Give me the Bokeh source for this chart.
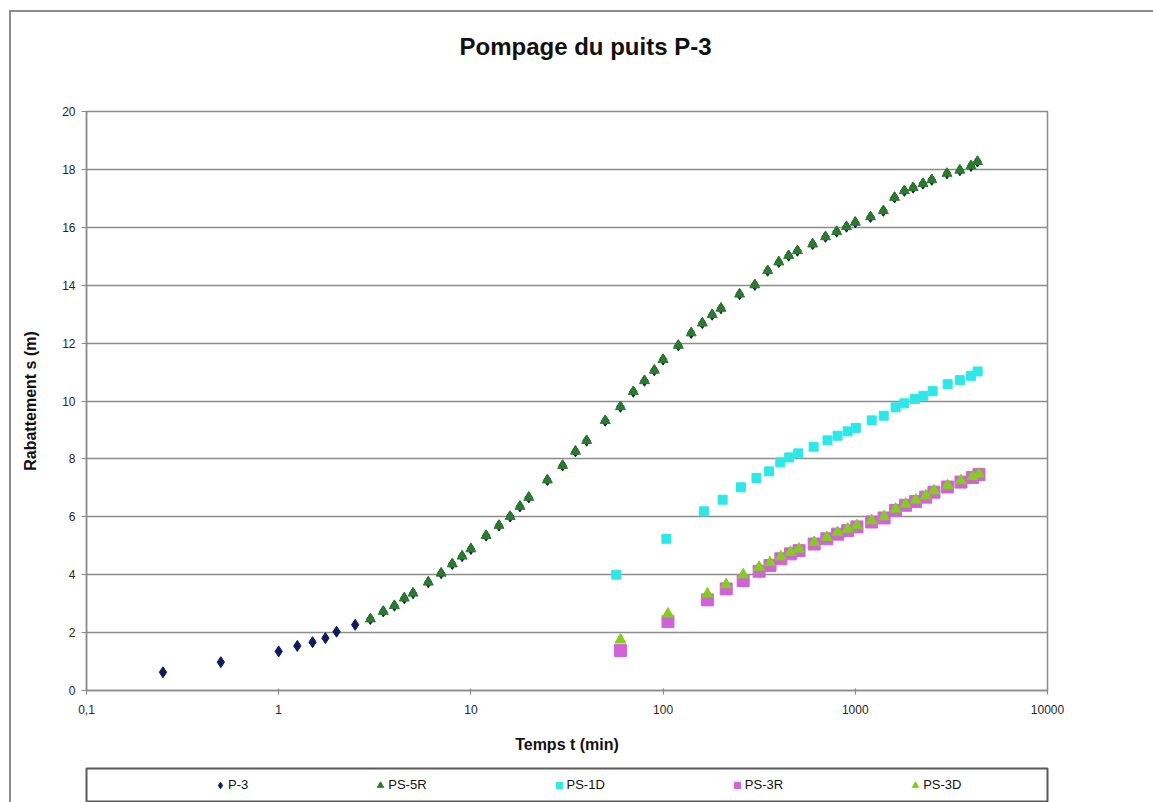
from bokeh.embed import file_html
from bokeh.layouts import column
from bokeh.models import FixedTicker, Legend, LegendItem, Title
from bokeh.plotting import figure
from bokeh.resources import INLINE

# ---- Mesures de rabattement : temps (min) / rabattement (m) ----
t_p3 = [0.25, 0.5, 1, 1.25, 1.5, 1.75, 2, 2.5, 3, 3.5, 4, 4.5, 5, 6, 7, 8, 9, 10,
        12, 14, 16, 18, 20, 25, 30, 35, 40, 50, 60, 70, 80, 90, 100, 120, 140,
        160, 180, 200, 250, 300, 350, 400, 450, 500, 600, 700, 800, 900, 1000,
        1200, 1400, 1600, 1800, 2000, 2250, 2500, 3000, 3500, 4000, 4320]
s_p3 = [0.63, 0.98, 1.35, 1.54, 1.67, 1.81, 2.03, 2.27, 2.47, 2.73, 2.93, 3.19,
        3.36, 3.74, 4.05, 4.37, 4.64, 4.89, 5.35, 5.70, 6.01, 6.36, 6.67, 7.27,
        7.77, 8.26, 8.63, 9.32, 9.80, 10.32, 10.70, 11.06, 11.43, 11.92, 12.35,
        12.69, 12.98, 13.20, 13.69, 14.01, 14.50, 14.80, 15.02, 15.19, 15.42,
        15.67, 15.85, 16.02, 16.17, 16.36, 16.57, 17.03, 17.26, 17.37, 17.51,
        17.64, 17.86, 17.97, 18.12, 18.27]

t_ps5r = [3, 3.5, 4, 4.5, 5, 6, 7, 8, 9, 10, 12, 14, 16, 18, 20, 25, 30, 35, 40,
          50, 60, 70, 80, 90, 100, 120, 140, 160, 180, 200, 250, 300, 350, 400,
          450, 500, 600, 700, 800, 900, 1000, 1200, 1400, 1600, 1800, 2000, 2250,
          2500, 3000, 3500, 4000, 4320]
s_ps5r = [2.47, 2.73, 2.93, 3.19, 3.36, 3.74, 4.05, 4.37, 4.64, 4.89, 5.35, 5.70,
          6.01, 6.36, 6.67, 7.27, 7.77, 8.26, 8.63, 9.32, 9.80, 10.32, 10.70,
          11.06, 11.43, 11.92, 12.35, 12.69, 12.98, 13.20, 13.69, 14.01, 14.50,
          14.80, 15.02, 15.19, 15.42, 15.67, 15.85, 16.02, 16.17, 16.36, 16.57,
          17.03, 17.26, 17.37, 17.51, 17.64, 17.86, 17.97, 18.12, 18.27]

t_ps1d = [57, 104, 163, 204, 254, 306, 356, 407, 453, 505, 607, 717, 809, 912,
          1007, 1217, 1406, 1621, 1800, 2045, 2260, 2526, 3024, 3500, 4000, 4330]
s_ps1d = [4.00, 5.24, 6.19, 6.59, 7.02, 7.34, 7.57, 7.88, 8.05, 8.19, 8.42, 8.64,
          8.80, 8.95, 9.07, 9.33, 9.49, 9.78, 9.92, 10.07, 10.18, 10.34, 10.58,
          10.72, 10.87, 11.02]

t_ps3 = [60, 106, 170, 213, 261, 316, 360, 410, 460, 510, 611, 711, 809, 912,
         1020, 1217, 1412, 1621, 1827, 2063, 2325, 2566, 3024, 3547, 4076, 4400]
s_ps3r = [1.38, 2.38, 3.13, 3.51, 3.80, 4.12, 4.32, 4.55, 4.72, 4.83, 5.06, 5.24,
          5.40, 5.52, 5.65, 5.82, 5.96, 6.22, 6.40, 6.53, 6.68, 6.85, 7.03, 7.20,
          7.36, 7.46]
s_ps3d = [1.75, 2.65, 3.34, 3.66, 4.00, 4.26, 4.42, 4.62, 4.78, 4.89, 5.12, 5.29,
          5.46, 5.58, 5.70, 5.87, 6.01, 6.27, 6.44, 6.58, 6.73, 6.90, 7.08, 7.25,
          7.39, 7.48]

x_ticks = [0.1, 1, 10, 100, 1000, 10000]
x_tick_labels = ["0,1", "1", "10", "100", "1000", "10000"]
y_ticks = [0, 2, 4, 6, 8, 10, 12, 14, 16, 18, 20]

FONT = "Liberation Sans"
GRID = "#8c8c8c"

# series styles: (label, marker, size, colour)
styles = [("P-3", "diamond", 11, "#0d1c5c"),
          ("PS-5R", "triangle", 10, "#2c7a2c"),
          ("PS-1D", "square", 9, "#2ee8e8"),
          ("PS-3R", "square", 12, "#d063d6"),
          ("PS-3D", "triangle", 11, "#84cc1f")]
series = [(t_p3, s_p3), (t_ps5r, s_ps5r), (t_ps1d, s_ps1d),
          (t_ps3, s_ps3r), (t_ps3, s_ps3d)]

BORDER_L, BORDER_R = 86, 106

# ---------------- main chart ----------------
p = figure(width=1153, height=767, x_axis_type="log",
           x_range=(0.1, 10000), y_range=(0, 20), title=None,
           output_backend="svg", toolbar_location=None,
           min_border_left=BORDER_L, min_border_right=BORDER_R,
           min_border_top=111, min_border_bottom=77)
p.background_fill_color = "white"
p.border_fill_color = None
p.outline_line_color = GRID
p.outline_line_width = 1.5

# title block: a thin spacer title keeps the heading clear of the frame
p.add_layout(Title(text=" ", text_font_size="1px", standoff=44), "above")
p.add_layout(Title(text="Pompage du puits P-3", align="left", offset=373,
                   text_font=FONT, text_font_size="24px",
                   text_font_style="bold", text_color="#111111", standoff=10),
             "above")

# axes
p.xaxis.ticker = FixedTicker(ticks=x_ticks, minor_ticks=[])
p.xaxis.major_label_overrides = dict(zip(x_ticks, x_tick_labels))
p.yaxis.ticker = FixedTicker(ticks=y_ticks, minor_ticks=[])
for ax in (p.xaxis[0], p.yaxis[0]):
    ax.axis_line_color = GRID
    ax.axis_line_width = 1.5
    ax.major_tick_line_color = GRID
    ax.major_tick_line_width = 1.2
    ax.minor_tick_line_color = None
    ax.major_label_text_font = FONT
    ax.major_label_text_font_size = "12px"
    ax.major_label_text_color = "#262626"
    ax.axis_label_text_font = FONT
    ax.axis_label_text_font_size = "16px"
    ax.axis_label_text_font_style = "bold"
    ax.axis_label_text_color = "#111111"
p.xaxis.axis_label = "Temps t (min)"
p.yaxis.axis_label = "Rabattement s (m)"
p.xaxis.major_tick_out = 4
p.xaxis.major_tick_in = 2
p.xaxis.major_label_standoff = 10
p.xaxis.axis_label_standoff = 19
p.yaxis.major_tick_out = 5
p.yaxis.major_tick_in = 0
p.yaxis.major_label_standoff = 6
p.yaxis.axis_label_standoff = 20

p.xgrid.visible = False
p.ygrid.grid_line_color = GRID
p.ygrid.grid_line_width = 1.3

for (label, marker, size, color), (t, s) in zip(styles, series):
    p.scatter(t, s, marker=marker, size=size,
              fill_color=color, line_color=color)

# ---------------- legend strip ----------------
# the strip's ranges lie below every drawdown value, so its renderers only
# provide the legend swatches
leg = figure(width=1153, height=35, x_range=(0.1, 10000), y_range=(-2, -1),
             x_axis_type="log", output_backend="svg", toolbar_location=None,
             x_axis_location=None, y_axis_location=None,
             min_border_left=BORDER_L, min_border_right=BORDER_R,
             min_border_top=1, min_border_bottom=1)
leg.grid.visible = False
leg.background_fill_color = "white"
leg.border_fill_color = None
leg.outline_line_color = "#5a5a5a"
leg.outline_line_width = 2

items = []
for (label, marker, size, color), (t, s) in zip(styles, series):
    r = leg.scatter(t, s, marker=marker, size=size,
                    fill_color=color, line_color=color)
    items.append(LegendItem(label=label, renderers=[r]))

legend = Legend(items=items, orientation="horizontal", location="left",
                margin=126, padding=0, spacing=124,
                glyph_width=16, glyph_height=16, label_width=0,
                label_height=16, label_standoff=0,
                border_line_alpha=0, background_fill_alpha=0,
                label_text_font=FONT, label_text_font_size="13px",
                label_text_color="#111111")
leg.add_layout(legend, "center")

layout = column(p, leg, spacing=0)
# chart-area frame: thin grey line along the left and top edges
layout.styles = {"background-color": "white",
                 "box-shadow": "inset 9px 10px 0 0 white, inset 11px 12px 0 0 #8c8c8c"}

open("out.html", "w").write(file_html(layout, INLINE))
